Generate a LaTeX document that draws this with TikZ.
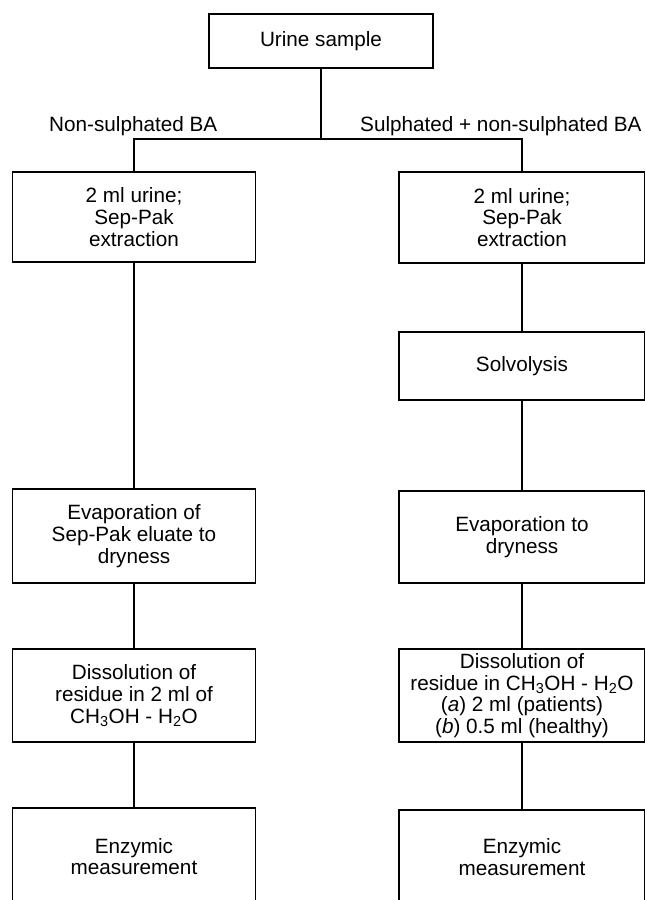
\documentclass[tikz,border=0pt]{standalone}
\usepackage{fontspec}
\setmainfont{Liberation Sans}
\begin{document}
\begin{tikzpicture}[x=1pt,y=-1pt,
  txt/.style={font=\fontsize{20.7}{21.7}\selectfont},
  box/.style={draw, line width=1.6pt, align=center, inner sep=0pt, txt},
  lbox/.style={box, minimum width=243pt},
  rbox/.style={box, minimum width=246pt},
  conn/.style={line width=1.6pt}]
\useasboundingbox (0,0) rectangle (645,900);
\fill[white] (0,0) rectangle (645,900);
\clip (0,0) rectangle (645,900);
% top
\node[box, minimum width=224pt, minimum height=54pt] (top) at (321,41) {Urine sample};
\coordinate (split) at (321,139);
% labels
\node[txt, anchor=base west, inner sep=0pt] (labL) at (49,131) {Non-sulphated BA};
\node[txt, anchor=base west, inner sep=0pt] (labR) at (360,131) {Sulphated + non-sulphated BA};
% left column
\node[lbox, minimum height=90pt] (L1) at (134,217) {2 ml urine;\\Sep-Pak\\extraction};
\node[lbox, minimum height=94pt] (L2) at (134,536) {Evaporation of\\Sep-Pak eluate to\\dryness};
\node[lbox, minimum height=93pt] (L3) at (134,695.5) {Dissolution of\\residue in 2 ml of\\CH\textsubscript{3}OH - H\textsubscript{2}O};
\node[lbox, minimum height=97pt] (L4) at (134,856.5) {Enzymic\\measurement};
% right column
\node[rbox, minimum height=91pt] (R1) at (522,217.5) {2 ml urine;\\Sep-Pak\\extraction};
\node[rbox, minimum height=68pt] (R1b) at (522,366) {Solvolysis};
\node[rbox, minimum height=92pt] (R2) at (522,537) {Evaporation to\\dryness};
\node[rbox, minimum height=93pt] (R3) at (522,695.5) {Dissolution of\\residue in CH\textsubscript{3}OH - H\textsubscript{2}O\\(\textit{a}) 2 ml (patients)\\(\textit{b}) 0.5 ml (healthy)};
\node[rbox, minimum height=94pt] (R4) at (522,857) {Enzymic\\measurement};
% connectors
\draw[conn] (top.south) -- (split);
\draw[conn] (L1.north) |- (split) -| (R1.north);
\draw[conn] (L1.south) -- (L2.north);
\draw[conn] (L2.south) -- (L3.north);
\draw[conn] (L3.south) -- (L4.north);
\draw[conn] (R1.south) -- (R1b.north);
\draw[conn] (R1b.south) -- (R2.north);
\draw[conn] (R2.south) -- (R3.north);
\draw[conn] (R3.south) -- (R4.north);
\end{tikzpicture}
\end{document}
